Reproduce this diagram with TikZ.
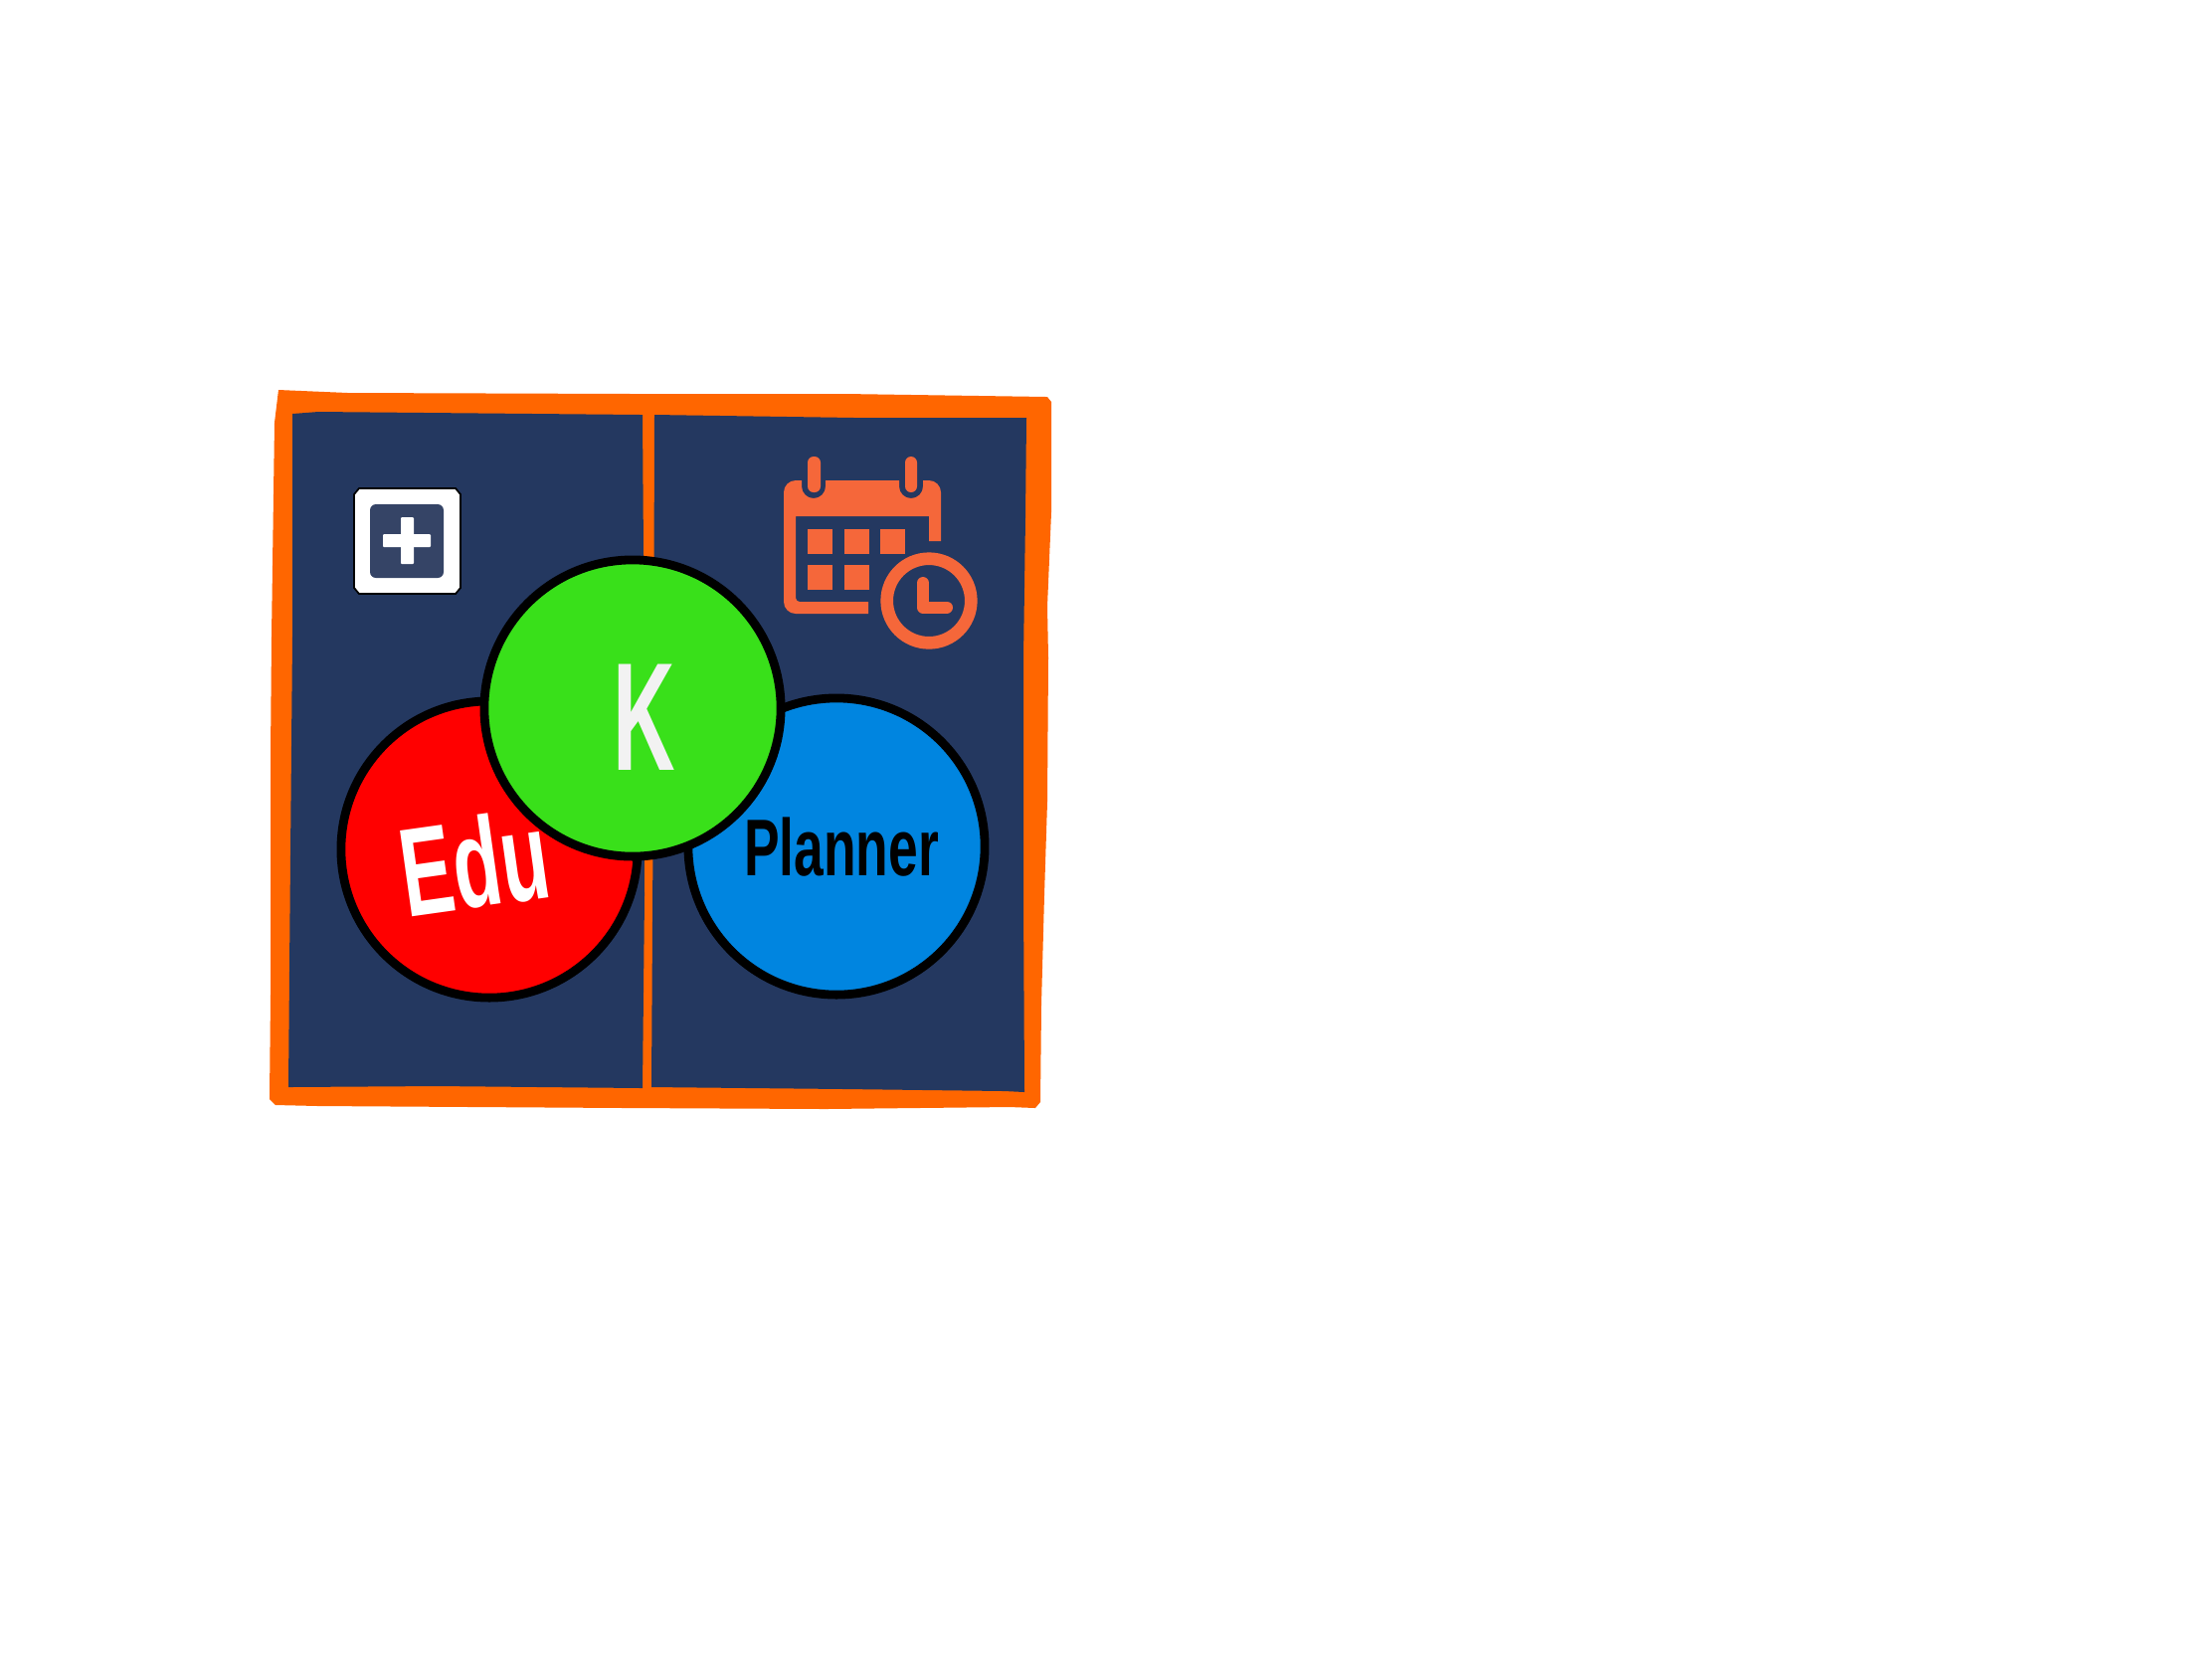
\documentclass[tikz,border=0pt]{standalone}
\usepackage{fontspec}
\setmainfont{Liberation Sans}
\usepackage{xcolor}
\definecolor{ColFrame}{RGB}{255,102,0}
\definecolor{ColPanel}{RGB}{36,56,96}
\definecolor{ColEdu}{RGB}{255,0,0}
\definecolor{ColPlanner}{RGB}{0,133,224}
\definecolor{ColK}{RGB}{57,224,26}
\definecolor{ColIcon}{RGB}{245,103,58}
\definecolor{ColPlus}{RGB}{53,68,102}
\tikzstyle{Disc}=[circle,draw=black,line width=2.5pt,minimum size=2.98cm,inner sep=0pt]
\tikzstyle{Label}=[inner sep=0pt,font=\fontsize{44}{44}\selectfont\bfseries]
\tikzstyle{Cell}=[fill=ColIcon,draw=none]
\begin{document}
\begin{tikzpicture}[x=.01cm,y=-.01cm]
        \useasboundingbox(0,0)rectangle(2224,1668);
        \fill[white](0,0)rectangle(2224,1668);
        % frame and panels
        \fill[ColFrame](280,392)--(350,395)--(640,396)--(850,396)--(1053,399)--(1057,404)--(1057,515)
            --(1053,610)--(1054,661)--(1053,806)--(1050,900)--(1047,1010)--(1046,1108)--(1041,1114)
            --(1015,1113)--(830,1115)--(630,1114)--(320,1112)--(277,1111)--(271,1105)
            --(272,1000)--(272,760)--(273,640)--(276,425)--cycle;
        \fill[ColPanel](294,416)--(320,414)--(646,417)--(647,559)--(648,900)--(646,1094)
            --(440,1092)--(290,1093)--(292,860)--(294,640)--cycle;
        \fill[ColPanel](658,417)--(860,420)--(1032,420)--(1031,520)--(1029,661)--(1029,900)
            --(1030,1098)--(1010,1097)--(850,1095)--(655,1093)--(657,758)--cycle;
        % plus icon
        \draw[fill=white,line width=.5pt](361,491)--(458,491)--(463,497)--(463,591)--(458,597)
            --(361,597)--(356,591)--(356,497)--cycle;
        \fill[ColPlus,rounded corners=.06cm](372,507)rectangle(446,581);
        \fill[white,rounded corners=.01cm](385,537)rectangle(433,550);
        \fill[white,rounded corners=.01cm](403,520)rectangle(416,567);
        % calendar icon
        \fill[ColIcon](873,617)--(800,617)arc(90:180:12)--(788,495)arc(180:270:12)--(806,483)
            --(806,489)arc(180:0:12)--(830,483)--(904,483)--(904,489)arc(180:0:12)
            --(928,483)--(934,483)arc(270:360:12)--(946,544)--(934,544)--(934,519)--(800,519)
            --(800,601)arc(180:90:4)--(873,605)--cycle;
        \fill[ColIcon,rounded corners=.06cm](812,459)rectangle(825,495);
        \fill[ColIcon,rounded corners=.06cm](910,459)rectangle(922,495);
        \foreach\x/\y in {812/532,849/532,885/532,812/568,849/568}
            \path[Cell](\x,\y)rectangle++(24.5,24.5);
        \draw[ColIcon,line width=3.6pt](934,604)circle(42.3);
        \draw[ColIcon,line width=3.4pt,line cap=round,line join=round](928,586)--(928,610.5)--(952,610.5);
        % discs
        \node[Disc,fill=ColEdu](edu)at(492,854){};
        \node[Disc,fill=ColPlanner](planner)at(841,851){};
        \node[Label,text=white,rotate=8,xscale=.62,font=\fontsize{36}{36}\selectfont\bfseries](eduT)at(477,867){Edu};
        \node[Disc,fill=ColK](k)at(636,712){};
        \node[Label,text=black,xscale=.66,font=\fontsize{23}{23}\selectfont\bfseries](plannerT)at(846,852){Planner};
        \node[Label,text=white!95!black,xscale=.56](kT)at(648,721){K};
\end{tikzpicture}
\end{document}
